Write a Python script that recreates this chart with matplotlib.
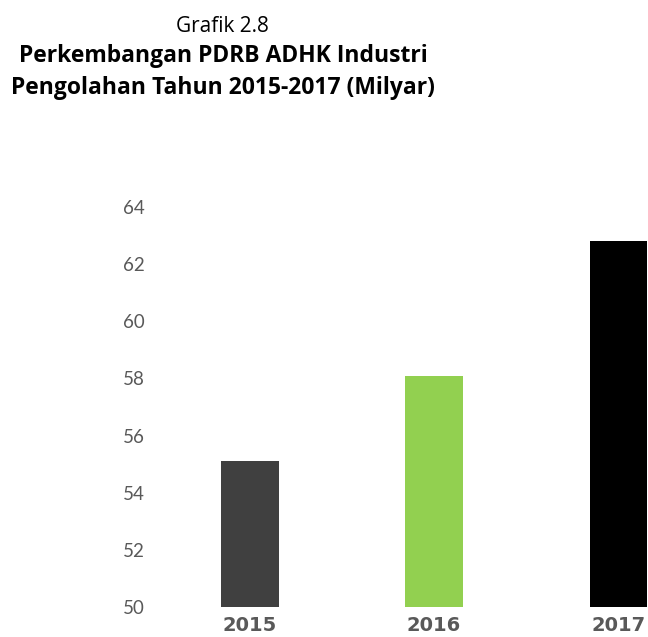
import matplotlib
matplotlib.use("Agg")
import matplotlib.pyplot as plt

years = ["2015", "2016", "2017"]
values = [55.1, 58.1, 62.8]
colors = ["#404040", "#92D050", "#000000"]
y_ticks = [50, 52, 54, 56, 58, 60, 62, 64]

plt.rcParams["font.family"] = ["Lato", "DejaVu Sans"]

fig = plt.figure(figsize=(6.48, 6.37), dpi=100)
ax = fig.add_axes([0.24, 0.047, 0.76, 0.628])

x = list(range(len(years)))
ax.bar(x, values, width=0.314, color=colors, zorder=2)
ax.set_xlim(-0.51, 2.16)
ax.set_ylim(50, 64)
ax.set_yticks(y_ticks)
ax.set_yticklabels([str(t) for t in y_ticks], fontsize=13.5, color="#595959")
ax.tick_params(axis="y", length=0, pad=8)
ax.set_xticks([])
for xi, yr in zip(x, years):
    ax.text(xi, -0.022, yr, transform=ax.get_xaxis_transform(),
            ha="center", va="top", fontsize=14, fontweight="bold",
            color="#595959", family="DejaVu Sans")
for s in ax.spines.values():
    s.set_visible(False)

title_font = ["Open Sans", "DejaVu Sans"]
fig.text(0.344, 0.9498, "Grafik 2.8", ha="center", va="baseline",
         fontsize=15, family=title_font)
fig.text(0.344, 0.9020, "Perkembangan PDRB ADHK Industri", ha="center",
         va="baseline", fontsize=16.5, fontweight="bold", family=title_font)
fig.text(0.344, 0.8524, "Pengolahan Tahun 2015-2017 (Milyar)", ha="center",
         va="baseline", fontsize=16.5, fontweight="bold", family=title_font)

fig.savefig("out.png", dpi=100, facecolor="white")
